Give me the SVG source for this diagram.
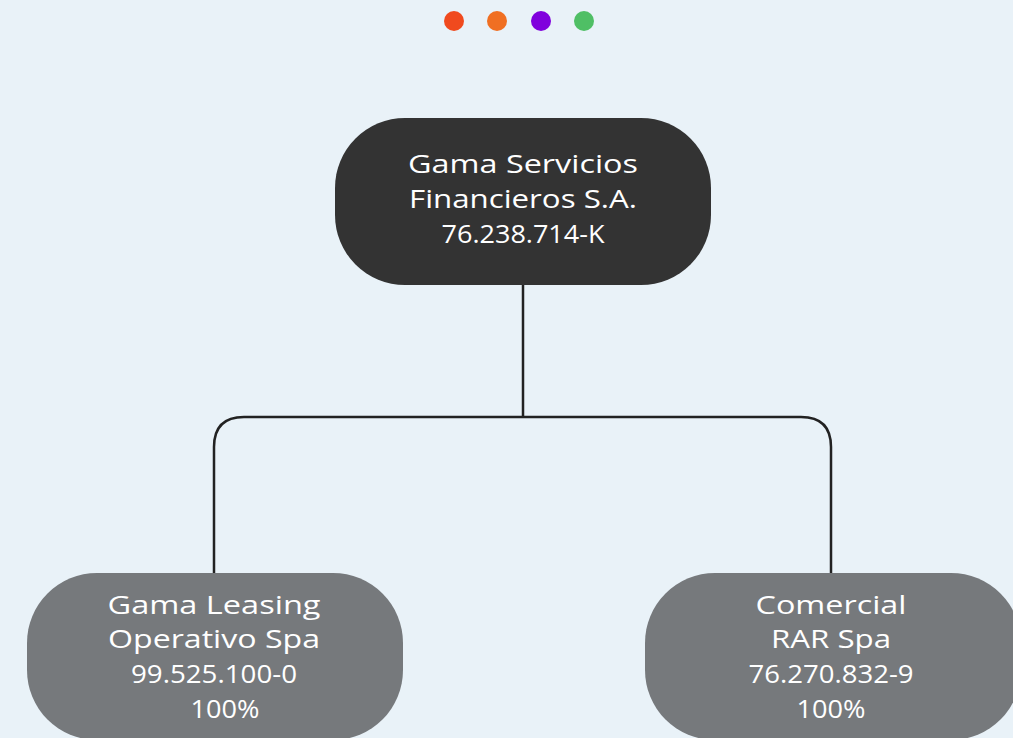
<svg xmlns="http://www.w3.org/2000/svg" width="1013" height="738" viewBox="0 0 1013 738">
<style>
.lbl{font-family:"Open Sans","Liberation Sans",sans-serif;font-size:26px;fill:#ffffff;text-anchor:middle}
.conn{fill:none;stroke:#222222;stroke-width:2.5}
</style>
<rect width="1013" height="738" fill="#E9F2F8"/>
<g id="dots">
<circle cx="454" cy="21" r="10" fill="#F04A1E"/>
<circle cx="497" cy="21" r="10" fill="#F06F22"/>
<circle cx="541" cy="21" r="10" fill="#8000DD"/>
<circle cx="584" cy="21" r="10" fill="#4FBF65"/>
</g>
<g id="connectors">
<path class="conn" d="M523 285 V417"/>
<path class="conn" d="M214 574 V447 Q214 417 244 417 H801 Q831 417 831 447 V574"/>
</g>
<g id="node-root">
<rect x="335" y="118" width="376" height="167" rx="70" fill="#333333"/>
<text class="lbl" x="523" y="173" textLength="230" lengthAdjust="spacingAndGlyphs">Gama Servicios</text>
<text class="lbl" x="523" y="208" textLength="228" lengthAdjust="spacingAndGlyphs">Financieros S.A.</text>
<text class="lbl" x="523" y="243" textLength="163" lengthAdjust="spacingAndGlyphs">76.238.714-K</text>
</g>
<g id="node-leasing">
<rect x="27" y="573" width="376" height="167" rx="70" fill="#76797C"/>
<text class="lbl" x="214" y="614" textLength="213" lengthAdjust="spacingAndGlyphs">Gama Leasing</text>
<text class="lbl" x="214" y="648" textLength="212" lengthAdjust="spacingAndGlyphs">Operativo Spa</text>
<text class="lbl" x="214" y="683" textLength="166" lengthAdjust="spacingAndGlyphs">99.525.100-0</text>
<text class="lbl" x="225" y="718" textLength="69" lengthAdjust="spacingAndGlyphs">100%</text>
</g>
<g id="node-rar">
<rect x="645" y="573" width="376" height="167" rx="70" fill="#76797C"/>
<text class="lbl" x="831" y="614" textLength="151" lengthAdjust="spacingAndGlyphs">Comercial</text>
<text class="lbl" x="831" y="648" textLength="120" lengthAdjust="spacingAndGlyphs">RAR Spa</text>
<text class="lbl" x="831" y="683" textLength="165" lengthAdjust="spacingAndGlyphs">76.270.832-9</text>
<text class="lbl" x="831" y="718" textLength="69" lengthAdjust="spacingAndGlyphs">100%</text>
</g>
</svg>
